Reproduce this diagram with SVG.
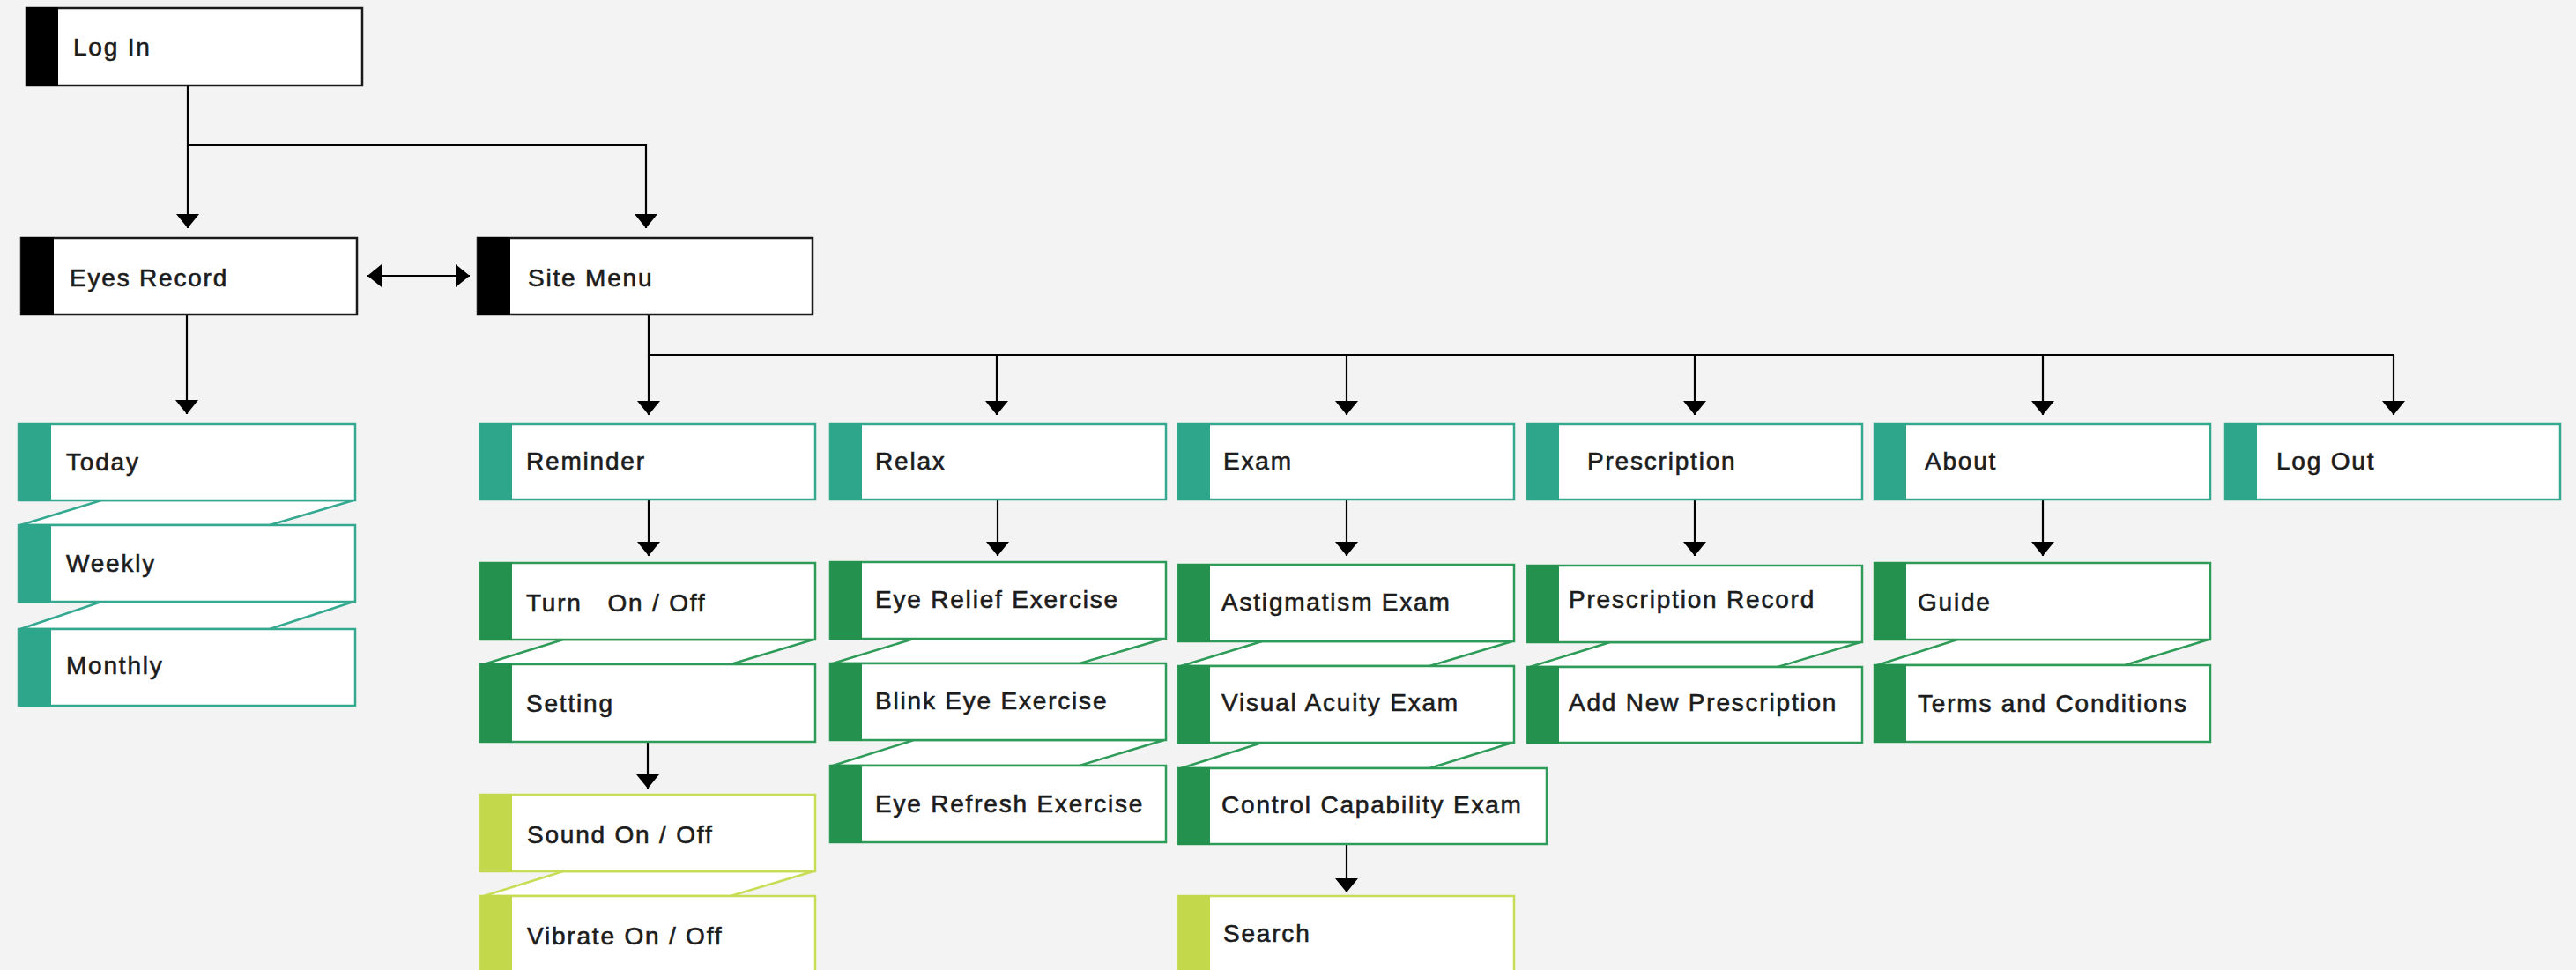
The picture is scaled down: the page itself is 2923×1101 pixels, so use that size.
<svg xmlns="http://www.w3.org/2000/svg" width="2923" height="1101" viewBox="0 0 2923 1101">
<style>
.bg{fill:#f3f3f3}
.box{fill:#fff;stroke-width:2.5}
.k .box{stroke:#1a1a1a}.k .bar{fill:#000}
.t .box{stroke:#34a98f}.t .bar{fill:#2ea68c}
.g .box{stroke:#2e9b58}.g .bar{fill:#25914f}
.l .box{stroke:#c8dc55}.l .bar{fill:#c3d84a}
.fold{fill:#fff;stroke-width:2.5}
.ft{stroke:#34a98f}.fg{stroke:#2e9b58}.fl{stroke:#c8dc55}
text{font-family:"Liberation Sans",Arial,sans-serif;font-size:28px;letter-spacing:1.8px;fill:#1c1c1c;stroke:#1c1c1c;stroke-width:0.6px;white-space:pre}
.c{fill:none;stroke:#000;stroke-width:2.2}
</style>
<defs>
<marker id="ah" markerUnits="userSpaceOnUse" viewBox="0 -14 17 28" refX="16" refY="0" markerWidth="17" markerHeight="28" orient="auto-start-reverse">
<path d="M0,-13 L16,0 L0,13 Z" fill="#000"/>
</marker>
</defs>
<rect class="bg" x="0" y="0" width="2923" height="1101"/>

<g id="connectors">
<path class="c" d="M213,98 V259" marker-end="url(#ah)"/>
<path class="c" d="M213,165 H733 V259" marker-end="url(#ah)"/>
<path class="c" d="M417,313 H533" marker-start="url(#ah)" marker-end="url(#ah)"/>
<path class="c" d="M212,357 V470" marker-end="url(#ah)"/>
<path class="c" d="M736,357 V403 H2716"/>
<path class="c" d="M736,403 V471" marker-end="url(#ah)"/>
<path class="c" d="M1131,403 V471" marker-end="url(#ah)"/>
<path class="c" d="M1528,403 V471" marker-end="url(#ah)"/>
<path class="c" d="M1923,403 V471" marker-end="url(#ah)"/>
<path class="c" d="M2318,403 V471" marker-end="url(#ah)"/>
<path class="c" d="M2716,403 V471" marker-end="url(#ah)"/>
<path class="c" d="M736,567 V631" marker-end="url(#ah)"/>
<path class="c" d="M735,842 V895" marker-end="url(#ah)"/>
<path class="c" d="M1132,567 V631" marker-end="url(#ah)"/>
<path class="c" d="M1528,567 V631" marker-end="url(#ah)"/>
<path class="c" d="M1923,567 V631" marker-end="url(#ah)"/>
<path class="c" d="M2318,567 V631" marker-end="url(#ah)"/>
<path class="c" d="M1528,958 V1013" marker-end="url(#ah)"/>
</g>

<g id="folds">
<polygon class="fold ft" points="115,568 401,568 306,596 23,596"/>
<polygon class="fold ft" points="115,683 401,683 306,714 23,714"/>
<polygon class="fold fg" points="639,726 923,726 829,754 549,754"/>
<polygon class="fold fl" points="639,989 923,989 829,1017 549,1017"/>
<polygon class="fold fg" points="1037,725 1321,725 1225,753 945,753"/>
<polygon class="fold fg" points="1037,840 1321,840 1225,869 945,869"/>
<polygon class="fold fg" points="1432,728 1716,728 1622,756 1340,756"/>
<polygon class="fold fg" points="1432,843 1716,843 1622,872 1340,872"/>
<polygon class="fold fg" points="1827,729 2111,729 2017,757 1736,757"/>
<polygon class="fold fg" points="2221,726 2506,726 2411,755 2130,755"/>
</g>

<g id="n-login" class="k"><rect class="box" x="30" y="9" width="381" height="88"/><rect class="bar" x="30" y="8" width="36" height="90"/><text x="83" y="63">Log In</text></g>
<g id="n-eyesrecord" class="k"><rect class="box" x="24" y="270" width="381" height="87"/><rect class="bar" x="24" y="269" width="37" height="89"/><text x="79" y="325">Eyes Record</text></g>
<g id="n-sitemenu" class="k"><rect class="box" x="542" y="270" width="380" height="87"/><rect class="bar" x="542" y="269" width="37" height="89"/><text x="599" y="325">Site Menu</text></g>

<g id="n-today" class="t"><rect class="box" x="21" y="481" width="382" height="87"/><rect class="bar" x="21" y="480" width="37" height="89"/><text x="75" y="534">Today</text></g>
<g id="n-weekly" class="t"><rect class="box" x="21" y="596" width="382" height="87"/><rect class="bar" x="21" y="595" width="37" height="89"/><text x="75" y="649">Weekly</text></g>
<g id="n-monthly" class="t"><rect class="box" x="21" y="714" width="382" height="87"/><rect class="bar" x="21" y="713" width="37" height="89"/><text x="75" y="765">Monthly</text></g>

<g id="n-reminder" class="t"><rect class="box" x="545" y="481" width="380" height="86"/><rect class="bar" x="545" y="480" width="36" height="88"/><text x="597" y="533">Reminder</text></g>
<g id="n-turn" class="g"><rect class="box" x="545" y="639" width="380" height="87"/><rect class="bar" x="545" y="638" width="36" height="89"/><text x="597" y="694" xml:space="preserve">Turn   On / Off</text></g>
<g id="n-setting" class="g"><rect class="box" x="545" y="754" width="380" height="88"/><rect class="bar" x="545" y="753" width="36" height="90"/><text x="597" y="808">Setting</text></g>
<g id="n-sound" class="l"><rect class="box" x="545" y="902" width="380" height="87"/><rect class="bar" x="545" y="901" width="36" height="89"/><text x="598" y="957">Sound On / Off</text></g>
<g id="n-vibrate" class="l"><rect class="box" x="545" y="1017" width="380" height="88"/><rect class="bar" x="545" y="1016" width="36" height="90"/><text x="598" y="1072">Vibrate On / Off</text></g>

<g id="n-relax" class="t"><rect class="box" x="942" y="481" width="381" height="86"/><rect class="bar" x="942" y="480" width="36" height="88"/><text x="993" y="533">Relax</text></g>
<g id="n-eyerelief" class="g"><rect class="box" x="942" y="638" width="381" height="87"/><rect class="bar" x="942" y="637" width="36" height="89"/><text x="993" y="690">Eye Relief Exercise</text></g>
<g id="n-blink" class="g"><rect class="box" x="942" y="753" width="381" height="87"/><rect class="bar" x="942" y="752" width="36" height="89"/><text x="993" y="805">Blink Eye Exercise</text></g>
<g id="n-eyerefresh" class="g"><rect class="box" x="942" y="869" width="381" height="87"/><rect class="bar" x="942" y="868" width="36" height="89"/><text x="993" y="922">Eye Refresh Exercise</text></g>

<g id="n-exam" class="t"><rect class="box" x="1337" y="481" width="381" height="86"/><rect class="bar" x="1337" y="480" width="36" height="88"/><text x="1388" y="533">Exam</text></g>
<g id="n-astig" class="g"><rect class="box" x="1337" y="641" width="381" height="87"/><rect class="bar" x="1337" y="640" width="36" height="89"/><text x="1386" y="693">Astigmatism Exam</text></g>
<g id="n-visual" class="g"><rect class="box" x="1337" y="756" width="381" height="87"/><rect class="bar" x="1337" y="755" width="36" height="89"/><text x="1386" y="807">Visual Acuity Exam</text></g>
<g id="n-control" class="g"><rect class="box" x="1337" y="872" width="418" height="86"/><rect class="bar" x="1337" y="871" width="36" height="88"/><text x="1386" y="923">Control Capability Exam</text></g>
<g id="n-search" class="l"><rect class="box" x="1337" y="1017" width="381" height="88"/><rect class="bar" x="1337" y="1016" width="36" height="90"/><text x="1388" y="1069">Search</text></g>

<g id="n-prescription" class="t"><rect class="box" x="1733" y="481" width="380" height="86"/><rect class="bar" x="1733" y="480" width="36" height="88"/><text x="1801" y="533">Prescription</text></g>
<g id="n-presrecord" class="g"><rect class="box" x="1733" y="642" width="380" height="87"/><rect class="bar" x="1733" y="641" width="36" height="89"/><text x="1780" y="690">Prescription Record</text></g>
<g id="n-addnew" class="g"><rect class="box" x="1733" y="757" width="380" height="86"/><rect class="bar" x="1733" y="756" width="36" height="88"/><text x="1780" y="807">Add New Prescription</text></g>

<g id="n-about" class="t"><rect class="box" x="2127" y="481" width="381" height="86"/><rect class="bar" x="2127" y="480" width="36" height="88"/><text x="2184" y="533">About</text></g>
<g id="n-guide" class="g"><rect class="box" x="2127" y="639" width="381" height="87"/><rect class="bar" x="2127" y="638" width="36" height="89"/><text x="2176" y="693">Guide</text></g>
<g id="n-terms" class="g"><rect class="box" x="2127" y="755" width="381" height="87"/><rect class="bar" x="2127" y="754" width="36" height="89"/><text x="2176" y="808">Terms and Conditions</text></g>

<g id="n-logout" class="t"><rect class="box" x="2525" y="481" width="380" height="86"/><rect class="bar" x="2525" y="480" width="36" height="88"/><text x="2583" y="533">Log Out</text></g>
</svg>
